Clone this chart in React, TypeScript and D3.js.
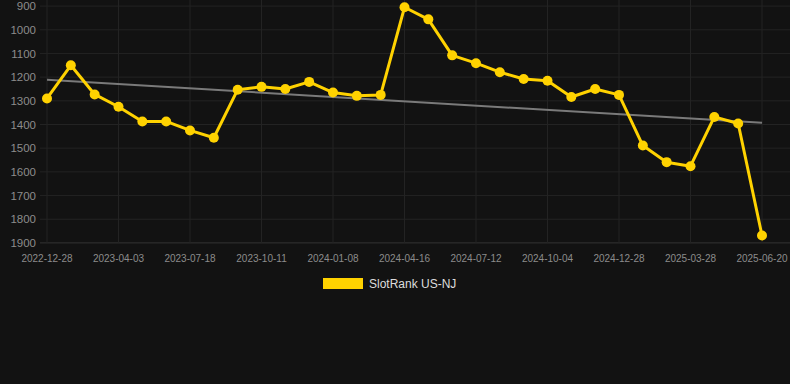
import React from "react";
import * as d3 from "d3";

// dates of each observation (every third one is shown on the axis)
const dates = [
  "2022-12-28", "2023-01-30", "2023-03-02", "2023-04-03", "2023-05-08", "2023-06-12",
  "2023-07-18", "2023-08-15", "2023-09-13", "2023-10-11", "2023-11-09", "2023-12-08",
  "2024-01-08", "2024-02-09", "2024-03-13", "2024-04-16", "2024-05-15", "2024-06-13",
  "2024-07-12", "2024-08-09", "2024-09-06", "2024-10-04", "2024-11-01", "2024-11-30",
  "2024-12-28", "2025-01-27", "2025-02-26", "2025-03-28", "2025-04-23", "2025-05-21",
  "2025-06-20",
];

const rank = [
  1290, 1150, 1273, 1325, 1387, 1387, 1425, 1456, 1253, 1241, 1250, 1220, 1265, 1279,
  1275, 905, 956, 1108, 1141, 1179, 1208, 1215, 1284, 1250, 1275, 1489, 1559, 1576,
  1368, 1396, 1869,
];

const trend = [1211, 1393]; // first / last value of the trend line
const yTicks = [900, 1000, 1100, 1200, 1300, 1400, 1500, 1600, 1700, 1800, 1900];
const seriesName = "SlotRank US-NJ";

const W = 790;
const H = 384;
const gold = "#ffd200";
const font = "'Liberation Sans', Arial, sans-serif";

export default function App() {
  const x = d3.scalePoint<string>().domain(dates).range([47, 762]);
  const y = d3.scaleLinear().domain([900, 1900]).range([6.1, 242.9]);

  const line = d3
    .line<number>()
    .x((d, i) => x(dates[i])!)
    .y((d) => y(d));

  const xTickDates = dates.filter((d, i) => i % 3 === 0);

  return (
    <div style={{ position: "fixed", left: 0, top: 0 }}>
      <svg width={W} height={H} style={{ display: "block", background: "#121212" }} fontFamily={font}>
        {/* horizontal grid */}
        {yTicks.map((t) => (
          <line
            key={t}
            x1={40}
            x2={790}
            y1={y(t)}
            y2={y(t)}
            stroke={t === 1900 ? "#333" : "#232323"}
            strokeWidth={1}
          />
        ))}
        {/* vertical grid */}
        {xTickDates.map((d) => (
          <line key={d} x1={x(d)} x2={x(d)} y1={0} y2={243} stroke="#232323" strokeWidth={1} />
        ))}

        {/* y labels */}
        {yTicks.map((t) => (
          <text key={t} x={36} y={y(t)} dy="0.36em" textAnchor="end" fontSize={11.5} fill="#8c8c8c">
            {t}
          </text>
        ))}
        {/* x labels */}
        {xTickDates.map((d) => (
          <text key={d} x={x(d)} y={262} textAnchor="middle" fontSize={10} fill="#8c8c8c">
            {d}
          </text>
        ))}

        {/* trend */}
        <line
          x1={x(dates[0])}
          x2={x(dates[dates.length - 1])}
          y1={y(trend[0])}
          y2={y(trend[1])}
          stroke="#7a7a7a"
          strokeWidth={2}
        />

        {/* series */}
        <path d={line(rank) ?? ""} fill="none" stroke={gold} strokeWidth={3} strokeLinejoin="round" />
        {rank.map((v, i) => (
          <circle key={i} cx={x(dates[i])} cy={y(v)} r={5} fill={gold} />
        ))}

        {/* legend */}
        <rect x={323} y={278} width={40} height={11} fill={gold} />
        <text x={369} y={284} dy="0.36em" fontSize={12} fill="#dddddd">
          {seriesName}
        </text>
      </svg>
    </div>
  );
}
